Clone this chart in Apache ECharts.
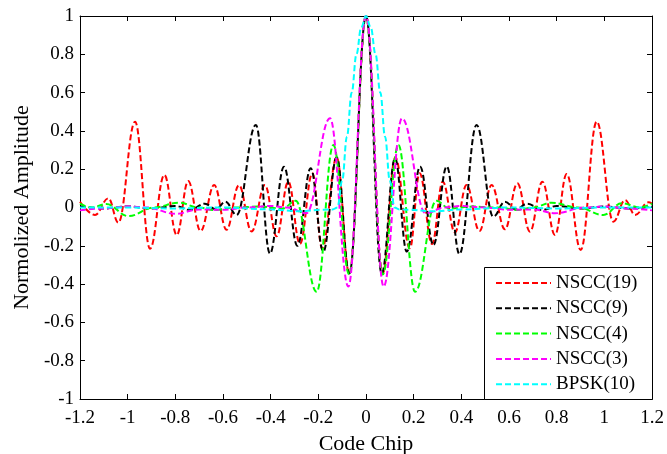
<!DOCTYPE html>
<html>
<head>
<meta charset="utf-8">
<script src="https://cdn.jsdelivr.net/npm/echarts@6/dist/echarts.min.js"></script>
<style>html,body{margin:0;padding:0;background:#fff;}#c{width:667px;height:454px;}</style>
</head>
<body>
<div id="c"></div>
<script>
const seriesNames = ['NSCC(19)', 'NSCC(9)', 'NSCC(4)', 'NSCC(3)', 'BPSK(10)'];
const seriesColors = ['#ff0000', '#000000', '#00ff00', '#ff00ff', '#00ffff'];
const xTicks = ['-1.2','-1','-0.8','-0.6','-0.4','-0.2','0','0.2','0.4','0.6','0.8','1','1.2'];
const yTicks = ['-1','-0.8','-0.6','-0.4','-0.2','0','0.2','0.4','0.6','0.8','1'];

const nscc19 = [
  [-1.2, 0.03], [-1.137, -0.039], [-1.081, 0.048], [-1.039, -0.079], [-0.969, 0.448], [-0.906, -0.215],
  [-0.846, 0.17], [-0.794, -0.144], [-0.746, 0.138], [-0.694, -0.123], [-0.637, 0.117], [-0.585, -0.116],
  [-0.533, 0.117], [-0.48, -0.125], [-0.424, 0.117], [-0.375, -0.15], [-0.326, 0.135], [-0.277, -0.19],
  [-0.225, 0.179], [-0.184, -0.213], [-0.123, 0.262], [-0.07, -0.344], [0, 1],
  [0.07, -0.344], [0.123, 0.262], [0.184, -0.213], [0.225, 0.179], [0.277, -0.19], [0.322, 0.135],
  [0.373, -0.13], [0.422, 0.117], [0.476, -0.123], [0.527, 0.117], [0.583, -0.114], [0.635, 0.126],
  [0.688, -0.126], [0.74, 0.135], [0.793, -0.144], [0.842, 0.175], [0.901, -0.222], [0.968, 0.448],
  [1.038, -0.074], [1.087, 0.039], [1.129, -0.039], [1.185, 0.027], [1.2, 0.02]
];
const nscc9 = [
  [-1.2, 0.005], [-1.1, -0.005], [-1.0, 0.005], [-0.9, -0.005], [-0.8, 0.008], [-0.739, -0.013],
  [-0.676, 0.02], [-0.63, -0.01], [-0.59, 0.03], [-0.543, -0.039], [-0.462, 0.431], [-0.403, -0.24],
  [-0.344, 0.213], [-0.288, -0.2], [-0.232, 0.205], [-0.179, -0.23], [-0.123, 0.262], [-0.07, -0.344], [0, 1],
  [0.066, -0.344], [0.122, 0.257], [0.171, -0.23], [0.227, 0.213], [0.283, -0.196], [0.339, 0.215],
  [0.392, -0.243], [0.464, 0.431], [0.534, -0.048], [0.583, 0.03], [0.63, -0.01], [0.676, 0.02],
  [0.739, -0.013], [0.8, 0.008], [0.9, -0.005], [1.0, 0.005], [1.1, -0.005], [1.2, 0.005]
];
const nscc4 = [
  [-1.2, 0.02], [-1.15, 0.0], [-1.09, 0.018], [-0.997, -0.045], [-0.89, 0.0], [-0.785, 0.025],
  [-0.7, 0.0], [-0.64, -0.013], [-0.55, 0.0], [-0.45, 0.005], [-0.35, -0.005], [-0.295, 0.035],
  [-0.207, -0.44], [-0.137, 0.326], [-0.07, -0.35], [0, 1],
  [0.07, -0.35], [0.136, 0.326], [0.206, -0.44], [0.295, 0.035], [0.35, -0.005], [0.45, 0.005],
  [0.55, 0.0], [0.64, -0.013], [0.7, 0.0], [0.779, 0.025], [0.89, 0.0], [0.996, -0.039],
  [1.073, 0.022], [1.15, 0.0], [1.2, 0.02]
];
const nscc3 = [
  [-1.2, -0.015], [-1.1, -0.005], [-1.0, 0.005], [-0.92, 0.0], [-0.8, -0.033], [-0.7, -0.01],
  [-0.6, -0.012], [-0.5, 0.0], [-0.4, 0.008], [-0.33, 0.0], [-0.25, -0.03], [-0.151, 0.466],
  [-0.074, -0.413], [0, 1],
  [0.074, -0.413], [0.151, 0.466], [0.25, -0.03], [0.33, 0.0], [0.4, 0.008], [0.5, 0.0],
  [0.6, -0.012], [0.7, -0.01], [0.793, -0.03], [0.92, 0.0], [1.0, 0.005], [1.1, -0.005], [1.2, -0.015]
];
const bpsk10 = [
  [-1.2, 0.0], [-1.0, 0.0], [-0.8, -0.005], [-0.6, 0.0], [-0.4, -0.01], [-0.28, -0.02], [-0.18, -0.012],
  [-0.14, -0.01], [-0.12, 0.0], [-0.1, 0.14], [-0.08, 0.37], [-0.06, 0.6], [-0.04, 0.8], [-0.02, 0.94], [0, 1],
  [0.02, 0.94], [0.04, 0.8], [0.06, 0.6], [0.08, 0.37], [0.1, 0.14], [0.12, 0.0], [0.14, -0.01],
  [0.18, -0.012], [0.28, -0.02], [0.4, -0.01], [0.6, 0.0], [0.8, -0.005], [1.0, 0.0], [1.2, 0.0]
];
const seriesData = [nscc19, nscc9, nscc4, nscc3, bpsk10];

const FONT = 'Liberation Serif';
function fmt(v) { return String(parseFloat(v.toFixed(1))); }

const tickCommon = { inside: true, length: 5, lineStyle: { color: '#000', width: 1 } };
const lineCommon = { show: true, onZero: false, lineStyle: { color: '#000', width: 1 } };

const option = {
  animation: false,
  backgroundColor: '#fff',
  grid: { left: 80, right: 15, top: 16, bottom: 55, containLabel: false, outerBoundsMode: 'none' },
  xAxis: [
    {
      type: 'value', min: -1.2, max: 1.2, interval: 0.2, position: 'bottom',
      axisLine: lineCommon, axisTick: tickCommon, splitLine: { show: false },
      axisLabel: { color: '#000', fontFamily: FONT, fontSize: 19, margin: 10,
        formatter: v => { const s = fmt(v); return xTicks.indexOf(s) >= 0 ? s : ''; } },
      name: 'Code Chip', nameLocation: 'middle', nameGap: 32,
      nameTextStyle: { color: '#000', fontFamily: FONT, fontSize: 22 }
    },
    {
      type: 'value', min: -1.2, max: 1.2, interval: 0.2, position: 'top',
      axisLine: lineCommon, axisTick: tickCommon, splitLine: { show: false }, axisLabel: { show: false }
    }
  ],
  yAxis: [
    {
      type: 'value', min: -1, max: 1, interval: 0.2, position: 'left',
      axisLine: lineCommon, axisTick: tickCommon, splitLine: { show: false },
      axisLabel: { color: '#000', fontFamily: FONT, fontSize: 19, margin: 6,
        formatter: v => { const s = fmt(v); return yTicks.indexOf(s) >= 0 ? s : ''; } },
      name: 'Normolized Amplitude', nameLocation: 'middle', nameGap: 47,
      nameTextStyle: { color: '#000', fontFamily: FONT, fontSize: 22 }
    },
    {
      type: 'value', min: -1, max: 1, interval: 0.2, position: 'right',
      axisLine: lineCommon, axisTick: tickCommon, splitLine: { show: false }, axisLabel: { show: false }
    }
  ],
  graphic: [{
    type: 'rect', z: 50, left: 484, top: 267,
    shape: { width: 168, height: 132 },
    style: { fill: '#fff', stroke: '#000', lineWidth: 1 }
  }],
  legend: {
    z: 60, orient: 'vertical', left: 484, top: 267,
    padding: [6, 10, 5, 11], itemWidth: 55, itemHeight: 14, itemGap: 5.3,
    itemStyle: { opacity: 0 },
    lineStyle: { width: 2 },
    textStyle: { color: '#000', fontFamily: FONT, fontSize: 19, lineHeight: 20 },
    data: seriesNames
  },
  series: seriesNames.map((name, i) => ({
    name: name, type: 'line', xAxisIndex: 0, yAxisIndex: 0,
    data: seriesData[i], symbol: 'none', showSymbol: false,
    smooth: 0.4, smoothMonotone: 'x', clip: true,
    lineStyle: { color: seriesColors[i], width: 2, type: [6, 3] },
    itemStyle: { color: seriesColors[i] }
  }))
};

const chart = echarts.init(document.getElementById('c'), null, { renderer: 'canvas' });
chart.setOption(option);
</script>
</body>
</html>
